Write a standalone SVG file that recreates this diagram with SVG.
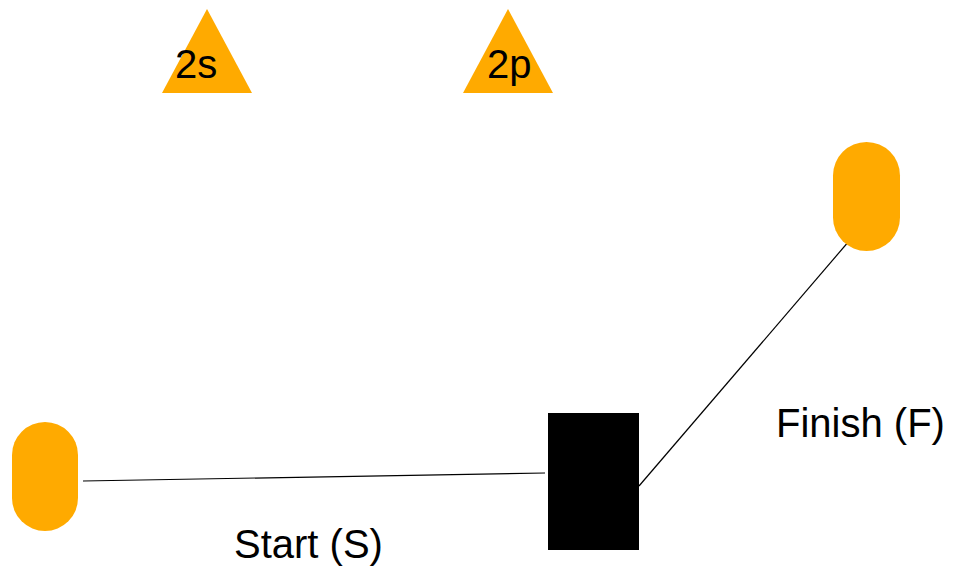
<svg xmlns="http://www.w3.org/2000/svg" width="968" height="571" viewBox="0 0 968 571">
<style>
.o{fill:#FFAA00}
.t{font-family:"Liberation Sans",Arial,sans-serif;font-size:40px;fill:#000}
.c{stroke:#000;stroke-width:1.2;fill:none}
</style>
<rect width="968" height="571" fill="#fff"/>
<g id="connectors">
<line class="c" x1="83" y1="481" x2="545" y2="473"/>
<line class="c" x1="639" y1="486" x2="852.5" y2="237"/>
</g>
<g id="tri-2s">
<polygon class="o" points="207,9 162,93 252,93"/>
<text class="t" x="175" y="78">2s</text>
</g>
<g id="tri-2p">
<polygon class="o" points="508,9 463,93 553,93"/>
<text class="t" x="487" y="78">2p</text>
</g>
<g id="start-node">
<rect class="o" x="12" y="422" width="66" height="109" rx="33" ry="33"/>
</g>
<g id="finish-node">
<rect class="o" x="833" y="142" width="67" height="109" rx="33.5" ry="33.5"/>
</g>
<g id="block">
<rect x="548" y="413" width="91" height="137" fill="#000"/>
</g>
<g id="label-start"><text class="t" x="234" y="558">Start (S)</text></g>
<g id="label-finish"><text class="t" x="776" y="437">Finish (F)</text></g>
</svg>
